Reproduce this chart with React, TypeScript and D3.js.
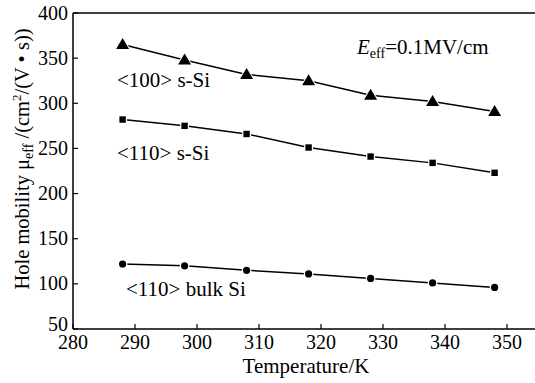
import React from "react";
import * as d3 from "d3";

const temps = [288, 298, 308, 318, 328, 338, 348];
const s100 = [365, 348, 332, 325, 309, 302, 291];
const s110 = [282, 275, 266, 251, 241, 234, 223];
const bulk110 = [122, 120, 115, 111, 106, 101, 96];
const xTicks = [280, 290, 300, 310, 320, 330, 340, 350];
const yTicks = [50, 100, 150, 200, 250, 300, 350, 400];

const W = 535, H = 383;
const left = 73, top = 13, bottom = 329;
const font = "'Liberation Serif', 'Times New Roman', serif";

export default function App() {
  const x = d3.scaleLinear().domain([280, 355]).range([left, left + 75 * 6.2]);
  const y = d3.scaleLinear().domain([50, 400]).range([bottom, top]);
  const line = d3.line<number>().x((_, i) => x(temps[i])).y((v) => y(v));

  const series = [
    { vals: s100, shape: "tri" },
    { vals: s110, shape: "sq" },
    { vals: bulk110, shape: "circ" },
  ];

  const marker = (shape: string, cx: number, cy: number, k: string) => {
    if (shape === "tri") {
      const s = 6.5;
      return (
        <path key={k} d={`M${cx},${cy - 6.5}L${cx + s},${cy + 4.5}L${cx - s},${cy + 4.5}Z`}
          fill="#000" stroke="#fff" strokeWidth={2} paintOrder="stroke" />
      );
    }
    if (shape === "sq") {
      return <rect key={k} x={cx - 3.2} y={cy - 3.2} width={6.4} height={6.4} fill="#000" stroke="#fff" strokeWidth={2.5} paintOrder="stroke" />;
    }
    return <circle key={k} cx={cx} cy={cy} r={3.6} fill="#000" stroke="#fff" strokeWidth={2.5} paintOrder="stroke" />;
  };

  return (
    <svg width={W} height={H} style={{ position: "absolute", left: 0, top: 0, background: "#fff" }} fontFamily={font}>
      <line x1={left} y1={top} x2={W} y2={top} stroke="#000" strokeWidth={1.5} />
      <line x1={left} y1={top} x2={left} y2={bottom} stroke="#000" strokeWidth={1.5} />
      <line x1={left} y1={bottom} x2={W} y2={bottom} stroke="#000" strokeWidth={1.5} />
      {xTicks.map((t) => (
        <g key={"x" + t}>
          <line x1={x(t)} x2={x(t)} y1={bottom} y2={bottom - 5} stroke="#000" strokeWidth={1.2} />
          <text x={x(t)} y={349} fontSize={20} textAnchor="middle">{t}</text>
        </g>
      ))}
      {yTicks.map((t) => (
        <g key={"y" + t}>
          <line x1={left} x2={left + 5} y1={y(t)} y2={y(t)} stroke="#000" strokeWidth={1.2} />
          <text x={68} y={y(t) + (t === 50 ? 2 : 6.5)} fontSize={20} textAnchor="end">{t}</text>
        </g>
      ))}
      <text x={306} y={373} fontSize={21} textAnchor="middle">Temperature/K</text>
      <text transform="translate(29,159) rotate(-90)" fontSize={20.5} textAnchor="middle">
        Hole mobility μ<tspan fontSize={14} dy={4}>eff</tspan>
        <tspan dy={-4}> /(cm</tspan><tspan fontSize={13} dy={-8}>2</tspan>
        <tspan dy={8}>/(V • s))</tspan>
      </text>
      {series.map((s, si) => (
        <g key={si}>
          <path d={line(s.vals) || ""} fill="none" stroke="#000" strokeWidth={1.5} />
          {s.vals.map((v, i) => marker(s.shape, x(temps[i]), y(v), si + "-" + i))}
        </g>
      ))}
      <text x={117} y={87} fontSize={21}>&lt;100&gt; s-Si</text>
      <text x={117} y={160} fontSize={21}>&lt;110&gt; s-Si</text>
      <text x={126} y={296} fontSize={21}>&lt;110&gt; bulk Si</text>
      <text x={357} y={54} fontSize={21}>
        <tspan fontStyle="italic">E</tspan>
        <tspan fontSize={14} dy={4}>eff</tspan>
        <tspan dy={-4}>=0.1MV/cm</tspan>
      </text>
    </svg>
  );
}
